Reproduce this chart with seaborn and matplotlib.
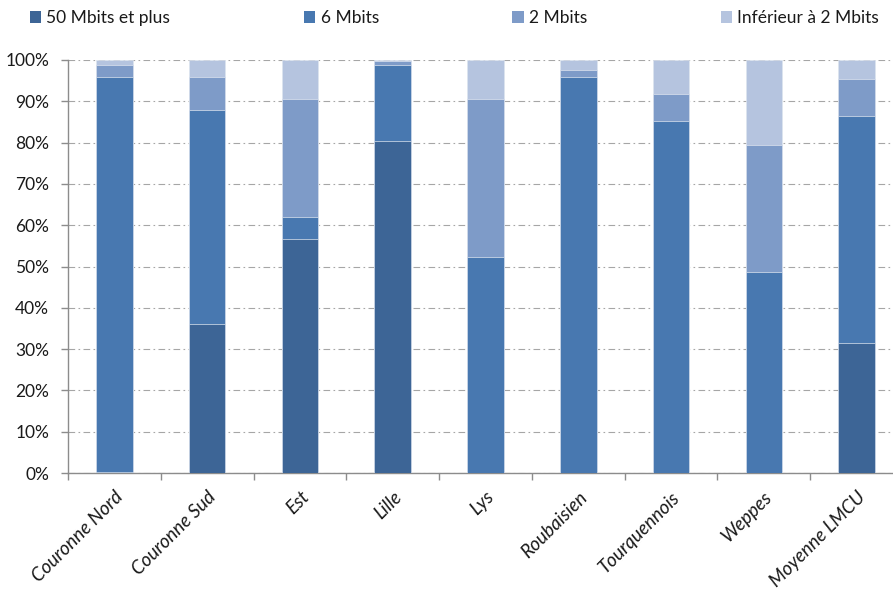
import matplotlib
matplotlib.use("Agg")
import matplotlib.pyplot as plt
import seaborn as sns
import numpy as np
import pandas as pd
from matplotlib.patches import Patch
from matplotlib.ticker import FixedLocator, PercentFormatter

# Share of premises by available broadband speed, per territory (%)
territoires = ["Couronne Nord", "Couronne Sud", "Est", "Lille", "Lys",
               "Roubaisien", "Tourquennois", "Weppes", "Moyenne LMCU"]
debit_50_plus = [0.3, 36.1, 56.7, 80.5, 0.0, 0.0, 0.0, 0.0, 31.5]
debit_6 = [95.7, 51.9, 5.4, 18.3, 52.4, 96.0, 85.3, 48.6, 54.9]
debit_2 = [2.8, 7.9, 28.4, 1.0, 38.1, 1.6, 6.5, 30.7, 9.0]
debit_inf_2 = [1.2, 4.1, 9.5, 0.2, 9.5, 2.4, 8.2, 20.7, 4.6]

series_names = ["50 Mbits et plus", "6 Mbits", "2 Mbits", "Inférieur à 2 Mbits"]
series_values = [debit_50_plus, debit_6, debit_2, debit_inf_2]
colors = ["#3D6596", "#4878B0", "#7E9BC8", "#B5C4DF"]

sns.set_theme(style="white")
plt.rcParams["font.family"] = ["Lato", "DejaVu Sans"]

fig = plt.figure(figsize=(8.93, 5.90), dpi=100)
ax = fig.add_axes([68 / 893, 1 - 473 / 590, (903 - 68) / 893, (473 - 60) / 590])

# Stacked bars: draw cumulative totals from the top segment down
cum = np.cumsum(np.array(series_values), axis=0)
for i in range(len(series_names) - 1, -1, -1):
    df = pd.DataFrame({"territoire": territoires, "valeur": cum[i]})
    sns.barplot(data=df, x="territoire", y="valeur", order=territoires,
                color=colors[i], saturation=1, width=0.395, ax=ax,
                edgecolor="#dde4ef", linewidth=0.5, zorder=3)

ax.set_xlim(-0.5, len(territoires) - 0.5)
ax.set_ylim(0, 100)
ax.yaxis.set_major_locator(FixedLocator(np.arange(0, 101, 10)))
ax.yaxis.set_major_formatter(PercentFormatter(decimals=0))
ax.set_xlabel("")
ax.set_ylabel("")

ax.grid(axis="y", color="#a6a6a6", linewidth=0.8,
        linestyle=(0, (6, 3, 1.5, 3)), zorder=0)
ax.grid(axis="x", visible=False)
ax.set_axisbelow(True)

for side in ["top", "right"]:
    ax.spines[side].set_visible(False)
for side in ["left", "bottom"]:
    ax.spines[side].set_color("#8c8c8c")
    ax.spines[side].set_linewidth(1.0)

ax.tick_params(axis="y", which="major", direction="out", length=5, width=1,
               color="#8c8c8c", labelsize=12.5, labelcolor="#1a1a1a", pad=8.5, left=True)
ax.set_xticks(range(len(territoires)))
ax.set_xticklabels(territoires, rotation=45, ha="right", rotation_mode="anchor",
                   fontstyle="italic", fontsize=13.5, color="#1a1a1a")
ax.tick_params(axis="x", which="major", length=0, pad=11)
ax.set_xticks(np.arange(-0.5, len(territoires), 1), minor=True)
ax.tick_params(axis="x", which="minor", direction="out", length=5, width=1,
               color="#8c8c8c", bottom=True)

handles = [Patch(facecolor=c, edgecolor="none") for c in colors]
fig.legend(handles, series_names, loc="center left", bbox_to_anchor=(30 / 893, 1 - 18 / 590),
           ncol=4, frameon=False, fontsize=12.5, handlelength=0.65, handleheight=0.65,
           handletextpad=0.3, columnspacing=7.7, borderpad=0, borderaxespad=0,
           labelcolor="#1a1a1a")

fig.savefig("out.png", dpi=100)
